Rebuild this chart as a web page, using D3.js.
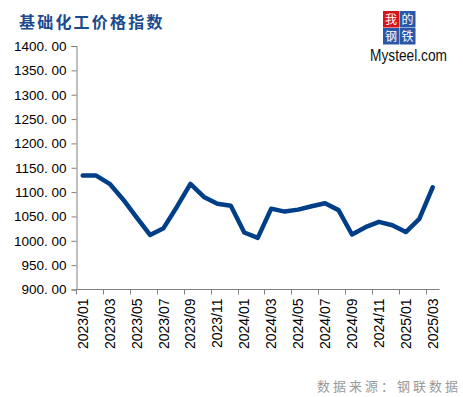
<!DOCTYPE html>
<html>
<head>
<meta charset="utf-8">
<script src="https://cdn.jsdelivr.net/npm/d3@7/dist/d3.min.js"></script>
<style>
  html, body { margin: 0; padding: 0; background: #fff; }
  svg { display: block; }
</style>
</head>
<body>
<div id="chart"></div>
<script>
/* Data */
var months = ["2023/01","2023/02","2023/03","2023/04","2023/05","2023/06","2023/07","2023/08","2023/09",
              "2023/10","2023/11","2023/12","2024/01","2024/02","2024/03","2024/04","2024/05","2024/06",
              "2024/07","2024/08","2024/09","2024/10","2024/11","2024/12","2025/01","2025/02","2025/03"];
var values = [1134, 1134, 1117, 1085, 1048, 1012, 1026, 1070, 1117,
              1090, 1076, 1072, 1017, 1006, 1066, 1060, 1064, 1071,
              1077, 1063, 1013, 1028, 1039, 1032, 1018, 1045, 1110];
var yTicks = [900, 950, 1000, 1050, 1100, 1150, 1200, 1250, 1300, 1350, 1400];
var labelMonths = months.filter(function(d, i) { return i % 2 === 0; });

var width = 463,
    height = 397,
    fontFamily = "'Liberation Sans', Arial, sans-serif",
    cjkFont = "'Noto Sans CJK SC', sans-serif";

var svg = d3.select("#chart")
    .append("svg")
    .attr("width", width)
    .attr("height", height);

/* Scales */
var x = d3.scaleBand()
    .domain(months)
    .range([76, 439.5]);

var y = d3.scaleLinear()
    .domain([900, 1400])
    .range([289.5, 46]);

/* Y axis */
var yAxis = svg.append("g")
    .attr("transform", "translate(76.5,0)")
    .call(d3.axisLeft(y)
        .tickValues(yTicks)
        .tickSize(5)
        .tickPadding(5)
        .tickFormat(function(d) { return d3.format(".2f")(d).replace(".", ". "); }));

yAxis.select(".domain").attr("stroke", "#808080");
yAxis.selectAll(".tick line").attr("stroke", "#808080");
yAxis.selectAll("text")
    .attr("fill", "#000")
    .attr("font-size", 13.5)
    .attr("font-family", fontFamily);

/* X axis: ticks at band edges every 2 months */
var xg = svg.append("g")
    .attr("transform", "translate(0,289.5)");

xg.append("line")
    .attr("x1", 76).attr("x2", 439.5)
    .attr("stroke", "#808080");

xg.selectAll(".xtick")
    .data(labelMonths)
    .enter().append("line")
    .attr("class", "xtick")
    .attr("x1", function(d) { return Math.round(x(d)) + 0.5; })
    .attr("x2", function(d) { return Math.round(x(d)) + 0.5; })
    .attr("y1", 0)
    .attr("y2", 5)
    .attr("stroke", "#808080");

xg.selectAll(".xlabel")
    .data(labelMonths)
    .enter().append("text")
    .attr("class", "xlabel")
    .attr("transform", function(d) {
        return "translate(" + (x(d) + x.bandwidth() / 2 + 5) + ",9) rotate(-90)";
    })
    .attr("text-anchor", "end")
    .attr("font-size", 14)
    .attr("font-family", fontFamily)
    .attr("fill", "#000")
    .text(function(d) { return d; });

/* Line */
var line = d3.line()
    .x(function(d, i) { return x(months[i]) + x.bandwidth() / 2; })
    .y(function(d) { return y(d); });

svg.append("path")
    .datum(values)
    .attr("d", line)
    .attr("fill", "none")
    .attr("stroke", "#003f87")
    .attr("stroke-width", 4.5)
    .attr("stroke-linejoin", "round")
    .attr("stroke-linecap", "round");

/* Title */
svg.append("text")
    .attr("x", 19)
    .attr("y", 28)
    .attr("font-size", 16)
    .attr("font-weight", "bold")
    .attr("font-family", cjkFont)
    .attr("letter-spacing", 2.2)
    .attr("fill", "#1b4a8e")
    .text("基础化工价格指数");

/* Source */
svg.append("text")
    .attr("x", 317)
    .attr("y", 391)
    .attr("font-size", 13)
    .attr("font-family", cjkFont)
    .attr("letter-spacing", 3)
    .attr("fill", "#9a9a9a")
    .text("数据来源：钢联数据");

/* Logo */
var logo = svg.append("g").attr("transform", "translate(383,11)");
var cells = [
    { t: "我", c: 0, r: 0, bg: "#d7141c", fg: "#fff" },
    { t: "的", c: 1, r: 0, bg: "#2a57a8", fg: "#fff" },
    { t: "钢", c: 0, r: 1, bg: "#2a57a8", fg: "#fff" },
    { t: "铁", c: 1, r: 1, bg: "#2a57a8", fg: "#fff" }
];
logo.selectAll("rect")
    .data(cells)
    .enter().append("rect")
    .attr("x", function(d) { return d.c * 16.5; })
    .attr("y", function(d) { return d.r * 17; })
    .attr("width", 16)
    .attr("height", 16.5)
    .attr("fill", function(d) { return d.bg; });
logo.selectAll("text")
    .data(cells)
    .enter().append("text")
    .attr("x", function(d) { return d.c * 16.5 + 8; })
    .attr("y", function(d) { return d.r * 17 + 12.5; })
    .attr("text-anchor", "middle")
    .attr("font-size", 12)
    .attr("font-family", cjkFont)
    .attr("fill", function(d) { return d.fg; })
    .text(function(d) { return d.t; });

svg.append("text")
    .attr("x", 370)
    .attr("y", 61)
    .attr("font-size", 16)
    .attr("font-family", fontFamily)
    .attr("textLength", 77)
    .attr("lengthAdjust", "spacingAndGlyphs")
    .attr("fill", "#111")
    .text("Mysteel.com");
</script>
</body>
</html>
